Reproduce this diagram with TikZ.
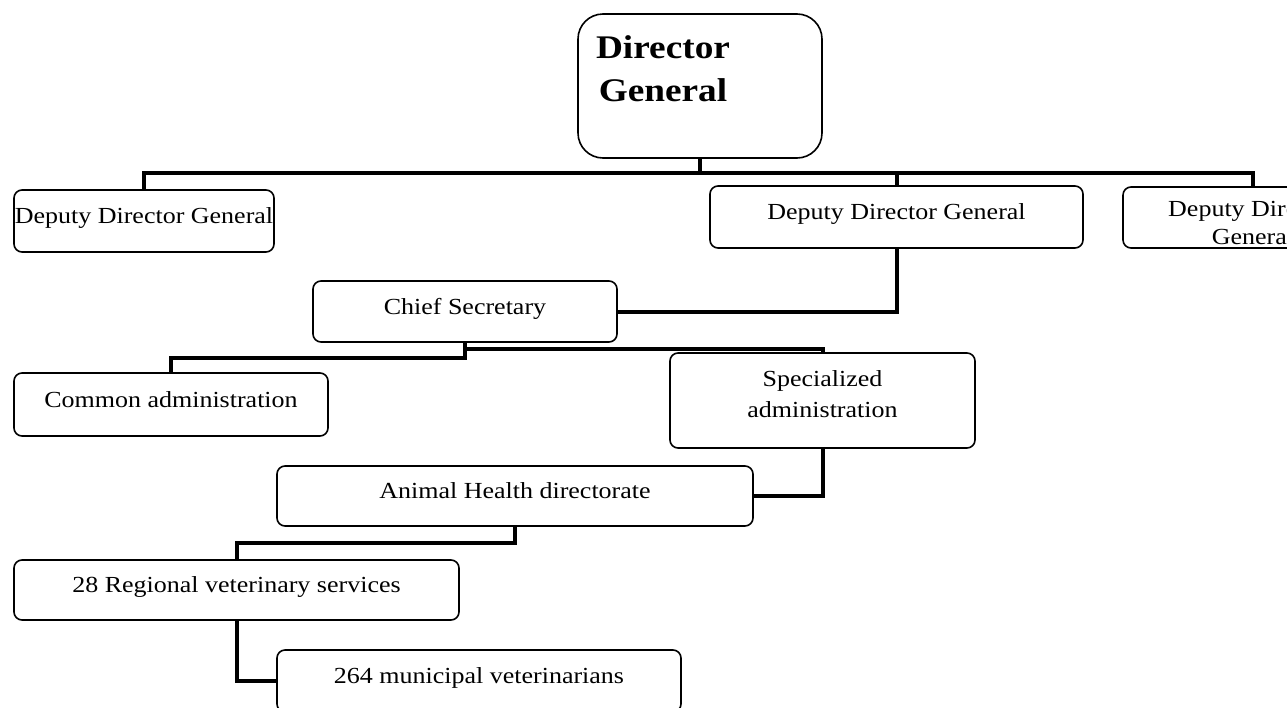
\documentclass[tikz,border=0pt]{standalone}
\usepackage{fontspec}
\setmainfont[FakeStretch=1.13]{Liberation Serif}
\usetikzlibrary{calc}

\begin{document}
\begin{tikzpicture}[x=1pt, y=-1pt,
  unit/.style={draw, line width=1.6pt, rounded corners=8pt, inner sep=0pt,
    font=\fontsize{23}{31}\selectfont},
  oneline/.style={unit, text height=13pt, text depth=8pt},
  link/.style={line width=4pt}]
\useasboundingbox (0,0) rectangle (1287,707);
\clip (0,0) rectangle (1287,707);
\node[unit, rounded corners=25pt, minimum width=244pt, minimum height=144pt] (dg) at (700,86) {};
\node[font=\fontsize{33}{43}\selectfont\bfseries, align=center] (dgtxt) at (663,69) {Director\\General};
\foreach \n/\x/\y/\w/\h/\t in {dd1/144/221/260/62/Deputy Director General,
  dd2/896.5/217/373/62/Deputy Director General,
  cs/465/311.5/304/61/Chief Secretary,
  ca/171/404.5/314/63/Common administration,
  ah/515/496/476/60/Animal Health directorate,
  rv/236.5/590/445/60/28 Regional veterinary services,
  mv/479/681/404/62/264 municipal veterinarians}
 \node[oneline, minimum width=\w, minimum height=\h] (\n) at (\x,\y) {\t};
\node[unit, align=center, minimum width=305pt, minimum height=95pt] (sa) at (822.5,400.5) {Specialized\\administration\\[-19pt]};
\node[unit, minimum width=260pt, minimum height=61pt] (dd3) at (1253,217.5) {};
\begin{scope}
\clip[rounded corners=8pt] (dd3.north west) rectangle (dd3.south east);
\node[font=\fontsize{23}{28}\selectfont, align=center] (dd3txt) at (1253,223) {Deputy Director\\General};
\end{scope}
\coordinate (bus) at (0,173);
\draw[link] (dd1.north) -- (dd1.north |- bus) -- (dd3.north |- bus) -- (dd3.north);
\draw[link] (dg.south) -- (dg.south |- bus);
\draw[link] (dd2.north) -- (dd2.north |- bus);
\draw[link] (dd2.south) |- (cs.east);
\draw[link] (cs.south) -- ++(0,6) -| (sa.north);
\draw[link] (cs.south) -- ++(0,15) -| (ca.north);
\draw[link] (sa.south) |- (ah.east);
\draw[link] (ah.south) -- ++(0,16) -| (rv.north);
\draw[link] (rv.south) |- (mv.west);
\end{tikzpicture}
\end{document}
